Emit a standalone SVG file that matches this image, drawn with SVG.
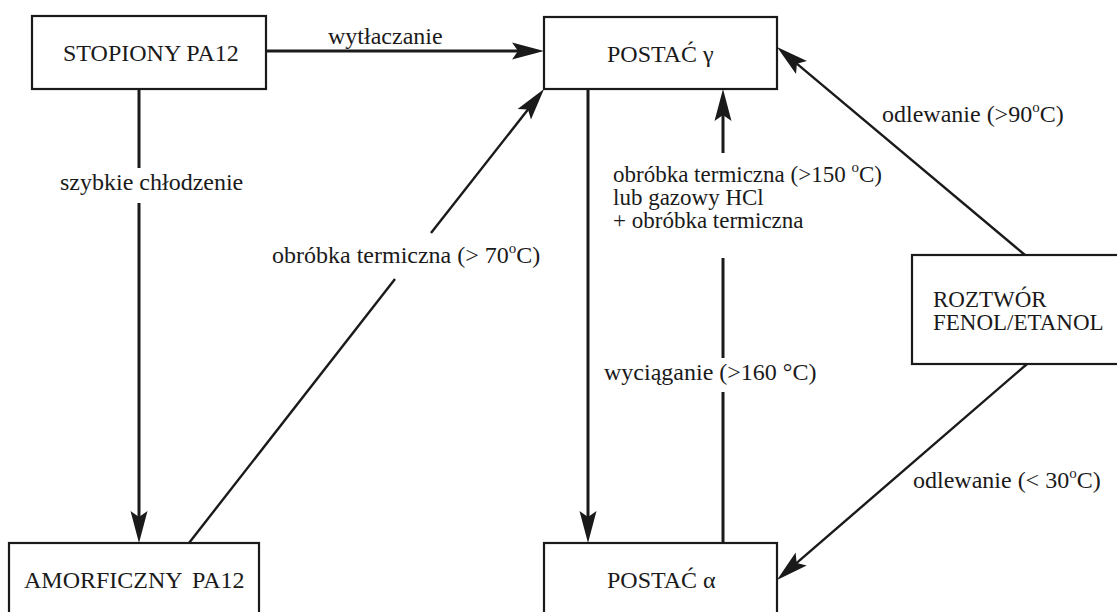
<svg xmlns="http://www.w3.org/2000/svg" width="1117" height="612" viewBox="0 0 1117 612">
<style>
.box{fill:#fff;stroke:#1a1a1a;stroke-width:2.2}
.t{font-family:"Liberation Serif","Times New Roman",serif;font-size:24px;fill:#1a1a1a}
.m{font-size:23px}
.ln{fill:none;stroke:#1a1a1a;stroke-width:3}
.dg{fill:none;stroke:#1a1a1a;stroke-width:2.4}
</style>
<defs>
<marker id="ah" markerUnits="userSpaceOnUse" markerWidth="40" markerHeight="24" refX="12" refY="0" orient="auto" viewBox="0 -12 40 24" overflow="visible">
<path d="M32,0 L0,-8.5 L6,0 L0,8.5 Z" fill="#1a1a1a"/>
</marker>
</defs>
<rect width="1117" height="612" fill="#fff"/>
<g id="connectors">
<line class="ln" x1="266" y1="51" x2="524" y2="51" marker-end="url(#ah)"/>
<line class="ln" x1="139" y1="89" x2="139" y2="168"/>
<line class="ln" x1="139" y1="203" x2="139" y2="523" marker-end="url(#ah)"/>
<line class="dg" x1="189" y1="543" x2="395" y2="279"/>
<line class="dg" x1="431" y1="233" x2="531.7" y2="104.8" marker-end="url(#ah)"/>
<line class="ln" x1="588" y1="89" x2="588" y2="523" marker-end="url(#ah)"/>
<line class="ln" x1="723" y1="543" x2="723" y2="392"/>
<line class="ln" x1="723" y1="358" x2="723" y2="258"/>
<line class="ln" x1="723" y1="153" x2="723" y2="109" marker-end="url(#ah)"/>
<line class="dg" x1="1025" y1="255" x2="792.3" y2="59.9" marker-end="url(#ah)"/>
<line class="dg" x1="1027" y1="364" x2="792.1" y2="566.9" marker-end="url(#ah)"/>
<text class="t" x="328" y="44">wytłaczanie</text>
<text class="t" x="60" y="190">szybkie chłodzenie</text>
<text class="t" x="272" y="263">obróbka termiczna (&gt; 70<tspan font-size="15" dy="-10">o</tspan><tspan dy="10">C)</tspan></text>
<text class="t" x="882" y="122">odlewanie (&gt;90<tspan font-size="15" dy="-10">o</tspan><tspan dy="10">C)</tspan></text>
<text class="t m" x="613" y="182">obróbka termiczna (&gt;150 <tspan font-size="15" dy="-10">o</tspan><tspan dy="10">C)</tspan></text>
<text class="t m" x="613" y="205">lub gazowy HCl</text>
<text class="t m" x="613" y="228">+ obróbka termiczna</text>
<text class="t" x="604" y="380">wyciąganie (&gt;160 °C)</text>
<text class="t" x="913" y="488">odlewanie (&lt; 30<tspan font-size="15" dy="-10">o</tspan><tspan dy="10">C)</tspan></text>
</g>
<g id="stopiony">
<rect class="box" x="32" y="16" width="234" height="73"/>
<text class="t" x="63" y="61">STOPIONY PA12</text>
</g>
<g id="postac-gamma">
<rect class="box" x="544" y="17" width="233" height="72"/>
<text class="t" x="607" y="62">POSTAĆ γ</text>
</g>
<g id="amorficzny">
<rect class="box" x="9" y="543" width="250" height="90"/>
<text class="t" x="24" y="588">AMORFICZNY</text>
<text class="t" x="192" y="588">PA12</text>
</g>
<g id="postac-alfa">
<rect class="box" x="544" y="543" width="233" height="90"/>
<text class="t" x="607" y="588">POSTAĆ α</text>
</g>
<g id="roztwor">
<rect class="box" x="912" y="255" width="230" height="109"/>
<text class="t m" x="933" y="307">ROZTWÓR</text>
<text class="t m" x="933" y="330">FENOL/ETANOL</text>
</g>
</svg>
